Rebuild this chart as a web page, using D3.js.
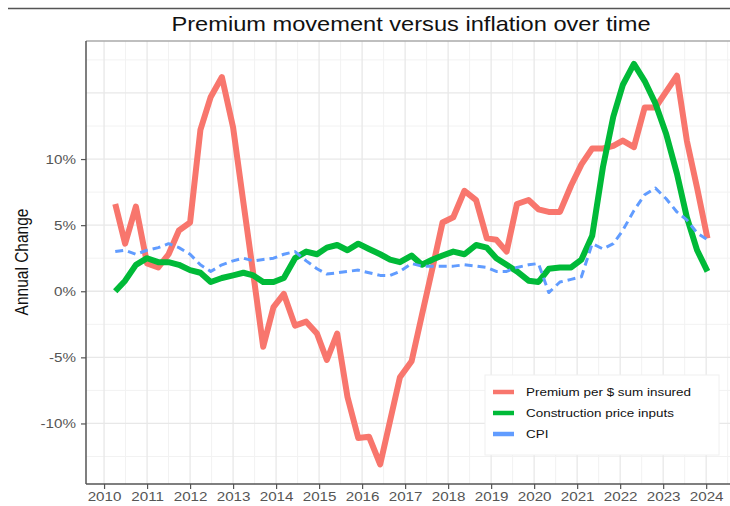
<!DOCTYPE html>
<html>
<head>
<meta charset="utf-8">
<script src="https://cdn.jsdelivr.net/npm/d3@7"></script>
<style>
  html, body { margin: 0; padding: 0; background: #fff; }
  svg { display: block; font-family: "Liberation Sans", Arial, sans-serif; }
</style>
</head>
<body>
<svg id="chart" width="730" height="506"></svg>
<script>
// ---------------- data ----------------
const dates = [2010.26, 2010.49, 2010.74, 2011.0, 2011.26, 2011.5, 2011.74, 2012.0, 2012.24, 2012.48,
  2012.74, 2013.0, 2013.24, 2013.47, 2013.7, 2013.94, 2014.18, 2014.44, 2014.7, 2014.95,
  2015.18, 2015.42, 2015.66, 2015.91, 2016.16, 2016.42, 2016.65, 2016.88, 2017.15, 2017.39,
  2017.64, 2017.87, 2018.12, 2018.38, 2018.65, 2018.9, 2019.12, 2019.36, 2019.6, 2019.87,
  2020.1, 2020.34, 2020.6, 2020.86, 2021.1, 2021.35, 2021.6, 2021.84, 2022.06, 2022.32,
  2022.57, 2022.82, 2023.07, 2023.32, 2023.55, 2023.79, 2024.03];

const premium = [6.6, 3.6, 6.4, 2.1, 1.8, 2.8, 4.6, 5.2, 12.2, 14.7,
  16.2, 12.4, 6.7, 1.3, -4.2, -1.2, -0.2, -2.6, -2.3, -3.2,
  -5.2, -3.2, -8.0, -11.1, -11.0, -13.1, -9.8, -6.5, -5.3, -1.8,
  1.8, 5.2, 5.6, 7.6, 6.9, 4.0, 3.9, 3.0, 6.6, 6.9,
  6.2, 6.0, 6.0, 8.0, 9.6, 10.8, 10.8, 11.0, 11.4, 10.9,
  13.9, 13.9, 15.1, 16.3, 11.4, 7.8, 4.0];

const construction = [0.0, 0.8, 2.0, 2.5, 2.2, 2.2, 2.0, 1.6, 1.4, 0.7,
  1.0, 1.2, 1.4, 1.2, 0.7, 0.7, 1.0, 2.5, 3.0, 2.8,
  3.3, 3.5, 3.1, 3.6, 3.2, 2.8, 2.4, 2.2, 2.7, 2.0,
  2.4, 2.7, 3.0, 2.8, 3.5, 3.3, 2.5, 2.0, 1.5, 0.8,
  0.7, 1.7, 1.8, 1.8, 2.4, 4.2, 9.4, 13.2, 15.6, 17.2,
  15.9, 14.2, 11.9, 8.9, 5.6, 3.1, 1.5];

const cpi = [3.0, 3.1, 2.8, 3.1, 3.3, 3.6, 3.3, 2.8, 2.0, 1.5,
  2.0, 2.3, 2.5, 2.3, 2.4, 2.5, 2.8, 3.0, 2.3, 1.7,
  1.3, 1.4, 1.5, 1.6, 1.4, 1.2, 1.2, 1.5, 2.1, 1.9,
  1.9, 1.9, 1.9, 2.0, 1.9, 1.8, 1.5, 1.5, 1.8, 2.0,
  2.1, -0.1, 0.7, 0.9, 1.1, 3.6, 3.2, 3.6, 4.6, 6.1,
  7.3, 7.8, 7.0, 6.0, 5.4, 4.4, 3.9];

const seriesNames = ["Premium per $ sum insured", "Construction price inputs", "CPI"];
const seriesColors = ["#F8766D", "#00BA38", "#619CFF"];
const xTickValues = [2010, 2011, 2012, 2013, 2014, 2015, 2016, 2017, 2018, 2019, 2020, 2021, 2022, 2023, 2024];
const yTickValues = [-10, -5, 0, 5, 10];
const titleText = "Premium movement versus inflation over time";
const yLabelText = "Annual Change";

// ---------------- layout ----------------
const K = 1.17; // horizontal stretch of the reference's text
const panel = { left: 86, right: 738, top: 41, bottom: 484 };
const svg = d3.select("#chart");

const x = d3.scaleLinear().domain([2009.58, 2024.74]).range([panel.left, panel.right]);
const y = d3.scaleLinear().domain([-14.58, 18.93]).range([panel.bottom, panel.top]);

function stretch(sel) {
  sel.each(function () {
    const t = d3.select(this);
    const xv = +t.attr("x") || 0;
    t.attr("x", xv / K).attr("transform", `scale(${K},1)`);
  });
}

// top rule
svg.append("line").attr("x1", 8).attr("x2", 730).attr("y1", 8.5).attr("y2", 8.5)
  .attr("stroke", "#555").attr("stroke-width", 1.5);

// title
svg.append("text").attr("x", 411 / K).attr("y", 31).attr("transform", `scale(${K},1)`)
  .attr("text-anchor", "middle").attr("font-size", 20.2).attr("fill", "#111").text(titleText);

// panel background
svg.append("rect").attr("x", panel.left).attr("y", panel.top)
  .attr("width", panel.right - panel.left).attr("height", panel.bottom - panel.top).attr("fill", "#fff");

const grid = svg.append("g");
// minor grid
const xMinor = d3.range(2009.5, 2025, 0.5).filter(v => !Number.isInteger(v) && x(v) > panel.left && x(v) < panel.right);
const yMinor = d3.range(-12.5, 20, 5).filter(v => y(v) > panel.top && y(v) < panel.bottom);
grid.selectAll(".xm").data(xMinor).join("line")
  .attr("x1", d => x(d)).attr("x2", d => x(d)).attr("y1", panel.top).attr("y2", panel.bottom)
  .attr("stroke", "#f2f2f2").attr("stroke-width", 1);
grid.selectAll(".ym").data(yMinor).join("line")
  .attr("y1", d => y(d)).attr("y2", d => y(d)).attr("x1", panel.left).attr("x2", panel.right)
  .attr("stroke", "#f2f2f2").attr("stroke-width", 1);
// major grid
const yMajor = yTickValues.concat([15]);
grid.selectAll(".xM").data(xTickValues).join("line")
  .attr("x1", d => x(d)).attr("x2", d => x(d)).attr("y1", panel.top).attr("y2", panel.bottom)
  .attr("stroke", "#e8e8e8").attr("stroke-width", 1.3);
grid.selectAll(".yM").data(yMajor).join("line")
  .attr("y1", d => y(d)).attr("y2", d => y(d)).attr("x1", panel.left).attr("x2", panel.right)
  .attr("stroke", "#e8e8e8").attr("stroke-width", 1.3);

// panel border (top)
svg.append("line").attr("x1", panel.left).attr("x2", panel.right).attr("y1", panel.top).attr("y2", panel.top)
  .attr("stroke", "#aaa").attr("stroke-width", 1.5);

// lines
const data = [premium, construction, cpi];
const lineGen = d3.line().x((d, i) => x(dates[i])).y(d => y(d));
const widths = [6, 6, 3];
data.forEach((vals, si) => {
  svg.append("path").datum(vals)
    .attr("d", lineGen)
    .attr("fill", "none")
    .attr("stroke", seriesColors[si])
    .attr("stroke-width", widths[si])
    .attr("stroke-linejoin", "round")
    .attr("stroke-linecap", "butt")
    .attr("stroke-dasharray", si === 2 ? "8,5" : null);
});

// axes
const yAxis = svg.append("g").attr("transform", `translate(${panel.left},0)`)
  .call(d3.axisLeft(y).tickValues(yTickValues).tickFormat(d => d + "%").tickSize(5).tickPadding(5));
const xAxis = svg.append("g").attr("transform", `translate(0,${panel.bottom})`)
  .call(d3.axisBottom(x).tickValues(xTickValues).tickFormat(d3.format("d")).tickSize(5).tickPadding(3));
[yAxis, xAxis].forEach(a => {
  a.select(".domain").attr("stroke", "#555").attr("stroke-width", 1.5);
  a.selectAll(".tick line").attr("stroke", "#555").attr("stroke-width", 1.2);
  a.selectAll(".tick text").attr("fill", "#555").attr("font-size", 13)
    .attr("font-family", "Liberation Sans, Arial, sans-serif");
  stretch(a.selectAll(".tick text"));
});
yAxis.select(".domain").attr("d", `M0,${panel.top}V${panel.bottom}`);
xAxis.select(".domain").attr("d", `M${panel.left},0H${panel.right}`);

// y label
svg.append("text").attr("transform", `translate(28,262) scale(${K},1) rotate(-90)`)
  .attr("text-anchor", "middle").attr("font-size", 15.5).attr("fill", "#111").text(yLabelText);

// legend
const lg = svg.append("g");
lg.append("rect").attr("x", 485).attr("y", 375).attr("width", 234).attr("height", 80)
  .attr("fill", "#fff").attr("stroke", "#f0f0f0").attr("stroke-width", 1);
const legendY = [392, 413, 434];
seriesNames.forEach((name, i) => {
  lg.append("line").attr("x1", 493).attr("x2", 514).attr("y1", legendY[i]).attr("y2", legendY[i])
    .attr("stroke", seriesColors[i]).attr("stroke-width", 4.5);
  lg.append("text").attr("x", 526 / K).attr("y", legendY[i] + 4).attr("transform", `scale(${K},1)`)
    .attr("font-size", 11.5).attr("fill", "#111").text(name);
});
</script>
</body>
</html>
